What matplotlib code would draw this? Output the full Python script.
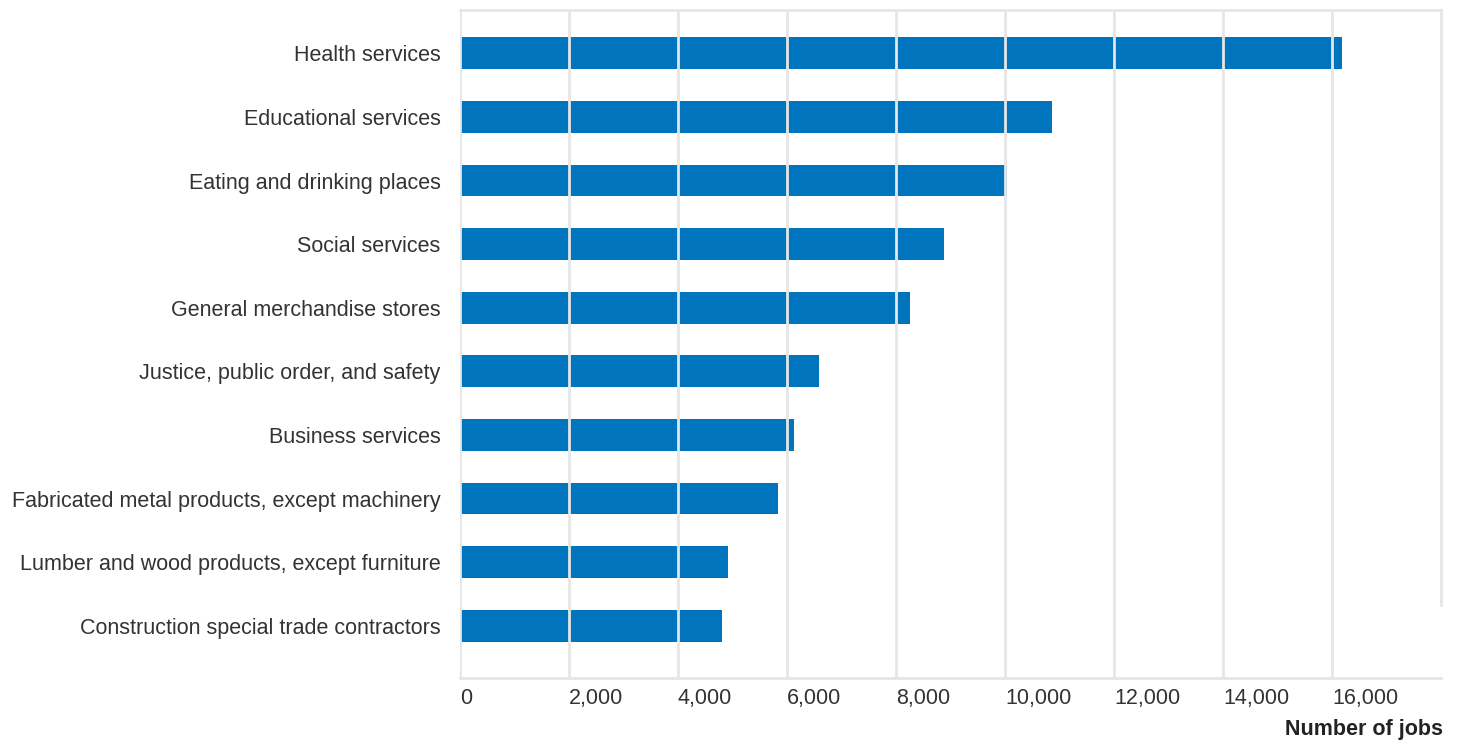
import matplotlib.pyplot as plt
import numpy as np

plt.rcParams['font.family'] = ['Liberation Sans', 'DejaVu Sans']

categories = [
    "Health services",
    "Educational services",
    "Eating and drinking places",
    "Social services",
    "General merchandise stores",
    "Justice, public order, and safety",
    "Business services",
    "Fabricated metal products, except machinery",
    "Lumber and wood products, except furniture",
    "Construction special trade contractors",
]
jobs = [16180, 10870, 10030, 8880, 8260, 6580, 6120, 5840, 4910, 4800]
xticks = [0, 2000, 4000, 6000, 8000, 10000, 12000, 14000, 16000]
xtick_labels = ["0", "2,000", "4,000", "6,000", "8,000", "10,000", "12,000", "14,000", "16,000"]

grid_col = "#e6e6e6"
bar_col = "#0074bd"
text_col = "#333333"

fig = plt.figure(figsize=(14.63, 7.43), dpi=100)
ax = fig.add_axes([0.3144, 0.0875, 0.6706, 0.899])

y = np.arange(len(categories))
ax.barh(y, jobs, height=0.5, color=bar_col, zorder=1)

ax.set_xlim(0, 18000)
ax.set_ylim(9.82, -0.68)

ax.set_xticks(xticks)
ax.set_xticklabels(xtick_labels, ha="left", fontsize=15.5, color=text_col)
ax.set_yticks(y)
ax.set_yticklabels(categories, fontsize=15.5, color=text_col)
ax.tick_params(axis="x", length=0, pad=7)
ax.tick_params(axis="y", length=0, pad=14)

ax.grid(axis="x", color=grid_col, linewidth=2, zorder=2)
ax.set_axisbelow(False)
for side in ["top", "right", "bottom"]:
    ax.spines[side].set_color(grid_col)
    ax.spines[side].set_linewidth(2)
ax.spines["left"].set_visible(False)
ax.spines["right"].set_bounds(-0.68, 8.67)

ax.text(1.002, -0.062, "Number of jobs", transform=ax.transAxes, ha="right", va="top",
        fontsize=15.5, fontweight="bold", color="#222222")

fig.savefig("out.png", dpi=100)
